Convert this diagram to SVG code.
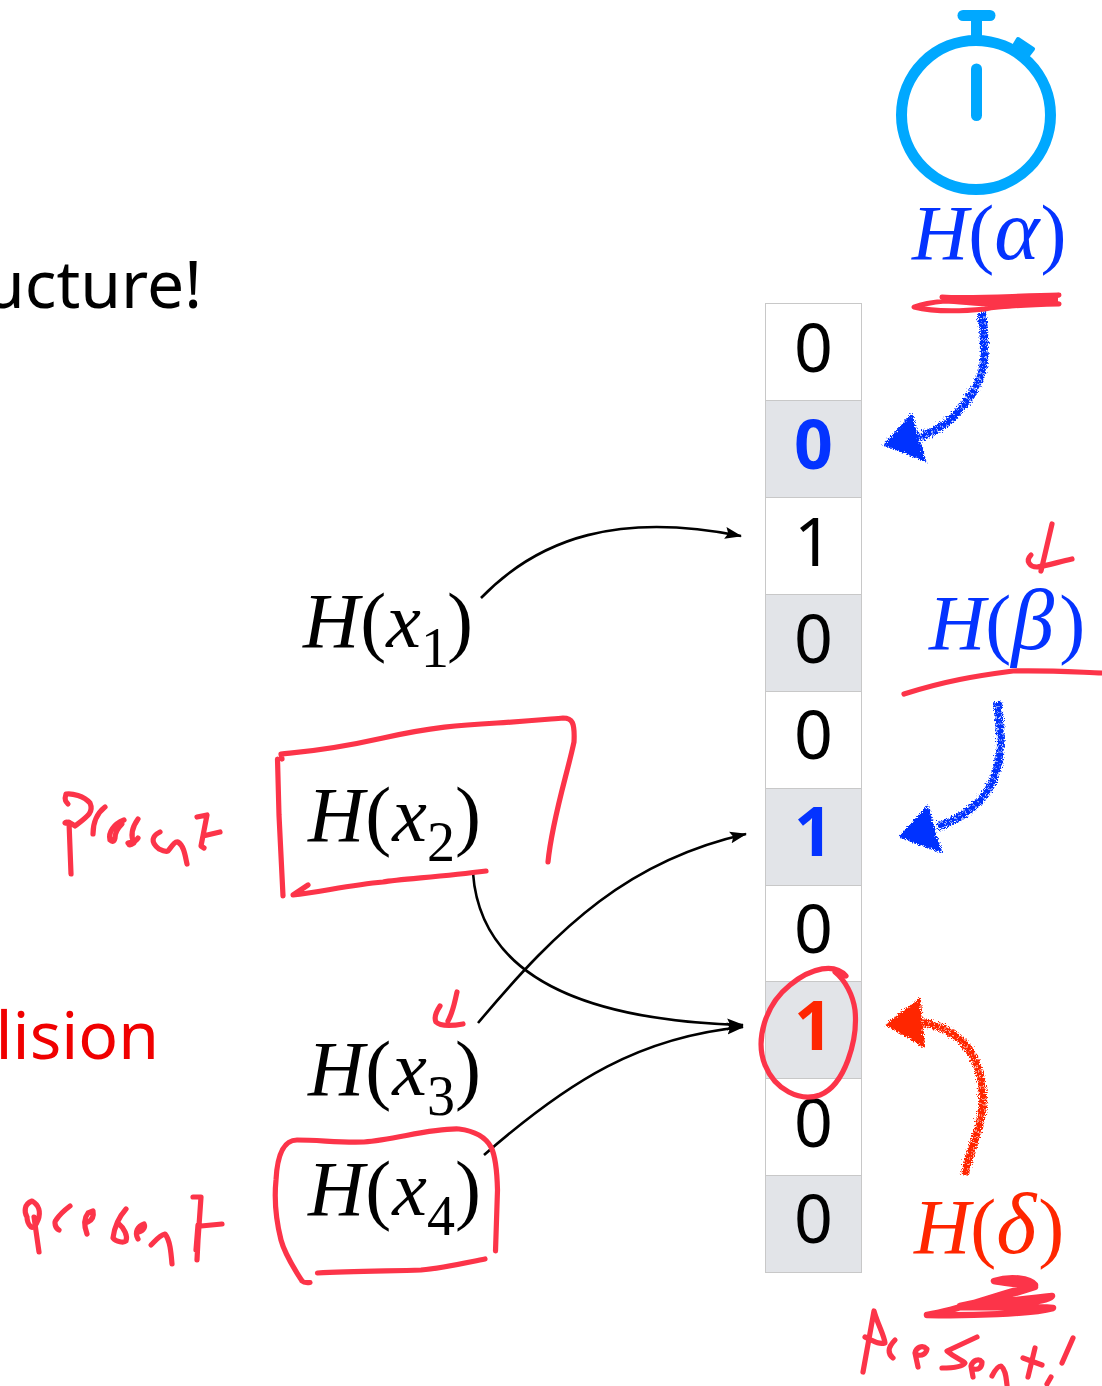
<svg xmlns="http://www.w3.org/2000/svg" width="1102" height="1386" viewBox="0 0 1102 1386">
<style>
.m{font-family:"Liberation Serif",serif;font-style:italic;font-size:78px}
.u{font-style:normal}
.gk{font-size:86px}
.s{font-style:normal;font-size:56px}
.d{font-family:"Noto Sans","Open Sans",sans-serif;font-size:68px;text-anchor:middle;fill:#000}
.b{font-weight:700}
.t{font-family:"Noto Sans","Open Sans",sans-serif;font-size:66px}
.c{fill:#fff;stroke:#c8c8c8;stroke-width:1}
.g{fill:#e2e4e8;stroke:#c8c8c8;stroke-width:1}
.k{fill:none;stroke:#000;stroke-width:2.6}
.r{fill:none;stroke:#fc3449;stroke-width:5.2;stroke-linecap:round;stroke-linejoin:round}
.w{fill:none;stroke:#00a8ff;stroke-width:11;stroke-linecap:round}
.rough{stroke-width:8;fill:none;stroke-linejoin:round;stroke-dasharray:5 .6}
</style>
<defs>
<marker id="ah" markerUnits="userSpaceOnUse" markerWidth="18" markerHeight="14" refX="16" refY="7" orient="auto"><path d="M0,1 L17,7 L0,13 L3,7 Z" fill="#000"/></marker>
<filter id="ro" x="-20%" y="-20%" width="140%" height="140%"><feTurbulence type="turbulence" baseFrequency="0.6" numOctaves="2" seed="7"/><feDisplacementMap in="SourceGraphic" scale="6" xChannelSelector="R" yChannelSelector="G"/></filter>
</defs>
<rect width="1102" height="1386" fill="#fff"/>

<text class="t" x="202" y="308" text-anchor="end" fill="#000">ucture!</text>
<text class="t" x="159" y="1059" text-anchor="end" fill="#f00000">lision</text>

<g id="bit-array">
<rect class="c" x="765.5" y="303.5" width="96" height="97"/>
<rect class="g" x="765.5" y="400.5" width="96" height="97"/>
<rect class="c" x="765.5" y="497.5" width="96" height="97"/>
<rect class="g" x="765.5" y="594.5" width="96" height="97"/>
<rect class="c" x="765.5" y="691.5" width="96" height="97"/>
<rect class="g" x="765.5" y="788.5" width="96" height="97"/>
<rect class="c" x="765.5" y="885.5" width="96" height="96"/>
<rect class="g" x="765.5" y="981.5" width="96" height="97"/>
<rect class="c" x="765.5" y="1078.5" width="96" height="97"/>
<rect class="g" x="765.5" y="1175.5" width="96" height="97"/>
<text class="d" x="813.5" y="372">0</text>
<text class="d b" x="813.5" y="469" style="fill:#0433ff">0</text>
<text class="d" x="813.5" y="566">1</text>
<text class="d" x="813.5" y="663">0</text>
<text class="d" x="813.5" y="759">0</text>
<text class="d b" x="813.5" y="856" style="fill:#0433ff">1</text>
<text class="d" x="813.5" y="953">0</text>
<text class="d b" x="813.5" y="1050" style="fill:#ff2600">1</text>
<text class="d" x="813.5" y="1147">0</text>
<text class="d" x="813.5" y="1243">0</text>
</g>

<g id="stopwatch">
<circle cx="976" cy="115" r="74.5" fill="none" stroke="#00a8ff" stroke-width="11"/>
<path class="w" d="M963,15.500H990"/>
<path d="M971,20H982V42H971Z" fill="#00a8ff"/>
<path class="w" d="M976.500,69V115.500"/>
<path d="M1018,39L1033,49L1026,58L1012,49Z" fill="#00a8ff" stroke="#00a8ff" stroke-width="4" stroke-linejoin="round"/>
</g>

<g id="hx1"><text class="m" x="303" y="647">H<tspan class="u" dx="1">(</tspan>x<tspan class="s" dy="20">1</tspan><tspan class="u" dy="-20" dx="-2">)</tspan></text></g>
<g id="hx2"><text class="m" x="308" y="841">H<tspan class="u" dx="1">(</tspan><tspan dx="1">x</tspan><tspan class="s" dy="20">2</tspan><tspan class="u" dy="-20">)</tspan></text></g>
<g id="hx3"><text class="m" x="308" y="1095">H<tspan class="u" dx="1">(</tspan><tspan dx="1">x</tspan><tspan class="s" dy="20">3</tspan><tspan class="u" dy="-20">)</tspan></text></g>
<g id="hx4"><text class="m" x="308" y="1215">H<tspan class="u" dx="1">(</tspan><tspan dx="1">x</tspan><tspan class="s" dy="20">4</tspan><tspan class="u" dy="-20">)</tspan></text></g>
<g id="halpha"><text class="m" x="912" y="259" fill="#0433ff">H<tspan class="u">(</tspan><tspan class="gk">α</tspan><tspan class="u" dx="1">)</tspan></text></g>
<g id="hbeta"><text class="m" x="929" y="649" fill="#0433ff">H<tspan class="u">(</tspan><tspan class="gk">β</tspan><tspan class="u" dx="5">)</tspan></text></g>
<g id="hdelta"><text class="m" x="914" y="1253" fill="#ff2600">H<tspan class="u">(</tspan><tspan class="gk">δ</tspan><tspan class="u" dx="2">)</tspan></text></g>

<g id="connectors">
<path class="k" marker-end="url(#ah)" d="M481,598C540,537 620,512 741,536"/>
<path class="k" marker-end="url(#ah)" d="M473,873C480,970 570,1020 743,1025"/>
<path class="k" marker-end="url(#ah)" d="M478,1023C560,925 630,860 746,834"/>
<path class="k" marker-end="url(#ah)" d="M484,1155C570,1080 640,1037 743,1027"/>
<g filter="url(#ro)" transform="translate(-2,-2)">
<path class="rough" stroke="#0433ff" d="M982,313C987,350 987,375 970,397C955,420 940,430 920,438"/>
<path d="M912,416L885,445L925,461Z" fill="#0433ff" stroke="#0433ff" stroke-width="2"/>
<path class="rough" stroke="#0433ff" d="M998,702C1003,745 1003,765 987,793C972,812 958,820 938,827"/>
<path d="M928,807L901,837L941,852Z" fill="#0433ff" stroke="#0433ff" stroke-width="2"/>
<path class="rough" stroke="#ff2600" d="M965,1175C972,1145 985,1120 983,1097C982,1060 965,1030 922,1023"/>
<path d="M920,1000L887,1025L924,1047Z" fill="#ff2600" stroke="#ff2600" stroke-width="2"/>
</g>
</g>

<g id="ink">
<path class="r" d="M282,759L281,754C300,752 325,751 383,738C432,727 460,725 497,723C530,721 550,719 563,718C572,718 575,722 574,742C567,775 552,820 548,862"/>
<path class="r" d="M277.500,759L279,815L283,896"/>
<path class="r" d="M486,871C440,877 400,879 383,882C350,885 320,892 293,895L308,885"/>
<path class="r" d="M71,874L69,822C62,826 64,818 75,826C88,816 94,812 90,803C84,796 72,793 66,794C64,800 66,802 68,804"/>
<path class="r" d="M93,834C93,824 96,814 105,807"/>
<path class="r" d="M124,820C114,824 108,832 110,840C112,842 114,842 115,838C115,832 118,828 122,824"/>
<path class="r" d="M138,819C133,826 130,835 134,843C130,846 129,845 128,843C132,842 136,842 138,838"/>
<path class="r" d="M160,832C152,836 150,842 159,849C163,851 166,852 168,851C172,846 175,841 178,842C184,846 185,855 187,864"/>
<path class="r" d="M197,817L207,815L201,846L204,848M203,836L220,832"/>
<path class="r" d="M39,1252L34,1217M27,1217C24,1212 24,1204 32,1201C39,1205 41,1212 38,1220C36,1226 33,1228 31,1227C28,1224 27,1220 27,1217"/>
<path class="r" d="M59,1230C55,1228 54,1222 56,1220C60,1214 66,1209 70,1206"/>
<path class="r" d="M87,1234C84,1226 84,1218 88,1213L93,1211C94,1216 92,1220 88,1222"/>
<path class="r" d="M126,1209C118,1218 114,1230 113,1238C116,1242 124,1243 126,1241C128,1236 124,1228 119,1224"/>
<path class="r" d="M138,1239C134,1232 138,1226 144,1224C146,1228 142,1232 137,1232"/>
<path class="r" d="M151,1245C156,1240 160,1235 165,1234C170,1240 171,1252 172,1264"/>
<path class="r" d="M193,1197L201,1197L198,1240L197,1260M196,1250L198,1225M201,1226L222,1224"/>
<path class="r" d="M310,1282.500C306,1283 303,1282 302,1281C295,1270 285,1255 281,1240C276,1220 274,1200 276,1180C277,1160 281,1140 297,1140C320,1140 340,1143 364,1142C395,1140 430,1128 459,1129C475,1131 486,1138 491,1147C495,1155 497,1170 497.500,1190L495.500,1251"/>
<path class="r" d="M317.500,1273C350,1271 390,1271 421,1270C445,1268 465,1263 485,1259"/>
<path class="r" d="M457,992C454,1005 453,1012 448,1021M440,1006C436,1012 434,1018 436,1022C440,1026 452,1026 463,1024"/>
<path class="r" d="M846,976C835,963 812,967 790,985C765,1005 755,1040 765,1065C775,1090 800,1102 820,1095C845,1085 858,1040 855,1010C853,995 845,980 835,972"/>
<path class="r" d="M942,297C970,299 1010,296 1059,295L1040,300L1059,304C1020,305 1000,306 985,309C955,312 930,311 914,307C925,303 935,302 945,301C965,302 985,305 1000,304" style="stroke-width:5"/>
<path d="M950,297H1058V304L1000,309Z" fill="#fc3449"/>
<path class="r" d="M904,694C945,681 975,676 1013,671C1045,670 1075,672 1102,673"/>
<path class="r" d="M1052,524L1041,571M1072,559C1055,563 1045,566 1037,567C1030,567 1025,561 1031,555"/>
<path class="r" d="M927,1315C960,1310 985,1298 1035,1285C1030,1278 1010,1276 994,1281C1003,1283 1020,1284 1035,1287C1020,1292 1000,1298 960,1306C985,1303 1020,1300 1052,1296C1050,1302 1010,1305 960,1307C990,1308 1030,1306 1053,1308C1030,1314 970,1316 927,1315" style="stroke-width:6.500"/>
<path class="r" d="M863,1372L874,1311C878,1325 884,1335 885,1343C878,1345 872,1340 865,1337"/>
<path class="r" d="M893,1358C888,1354 887,1348 895,1340"/>
<path class="r" d="M918,1367L915,1353C916,1348 922,1344 927,1349C926,1354 922,1356 918,1355"/>
<path class="r" d="M977,1337L947,1351C955,1358 962,1360 965,1363C962,1367 950,1368 942,1368"/>
<path class="r" d="M973,1377L971,1366C973,1360 979,1358 982,1362C982,1368 978,1370 974,1369"/>
<path class="r" d="M992,1376C995,1370 998,1366 1001,1366C1006,1370 1006,1378 1007,1385"/>
<path class="r" d="M1028,1377L1035,1348M1023,1358L1042,1365"/>
<path class="r" d="M1073,1338L1062,1363M1051,1377L1047,1384"/>
</g>
</svg>
